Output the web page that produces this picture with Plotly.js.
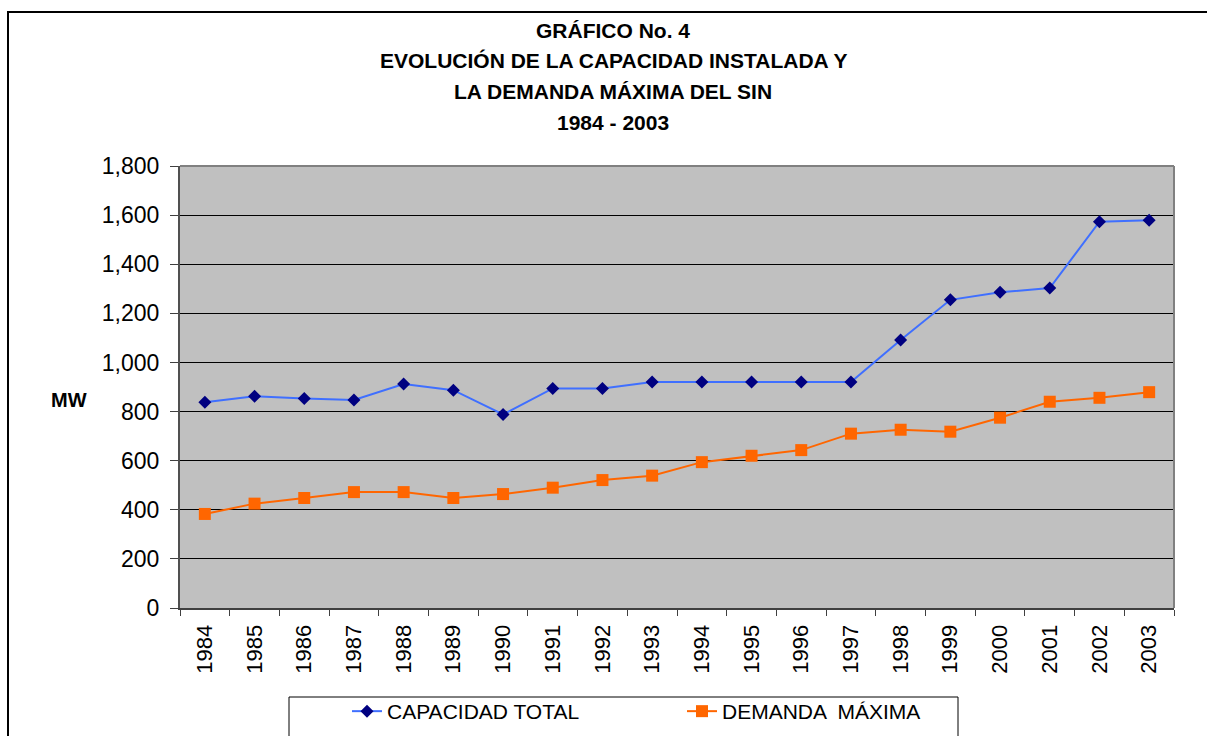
<!DOCTYPE html>
<html>
<head>
<meta charset="utf-8">
<script src="https://cdn.plot.ly/plotly-3.0.1.min.js"></script>
<style>html,body{margin:0;padding:0;background:#fff;}#chart{width:1207px;height:736px;}</style>
</head>
<body>
<div id="chart"></div>
<script>
const years = ["1984","1985","1986","1987","1988","1989","1990","1991","1992","1993","1994","1995","1996","1997","1998","1999","2000","2001","2002","2003"];
const capacidadTotal = [838, 862, 853, 847, 912, 887, 788, 894, 894, 920, 920, 920, 920, 920, 1091, 1255, 1286, 1303, 1573, 1579];
const demandaMaxima = [383, 425, 448, 472, 472, 448, 464, 490, 521, 539, 594, 620, 643, 710, 726, 718, 775, 840, 856, 879];
const titleLines = ["GRÁFICO No. 4", "EVOLUCIÓN DE LA CAPACIDAD INSTALADA Y", "LA DEMANDA MÁXIMA DEL SIN", "1984 - 2003"];
const yTicks = [0, 200, 400, 600, 800, 1000, 1200, 1400, 1600, 1800];

const FONT = "Liberation Sans, Arial, sans-serif";
const L = 180, R = 1174, T = 166, B = 608;
const W = R - L, H = B - T;
const px = x => (x - L) / W;
const py = y => (B - y) / H;

const traces = [
  {
    x: years, y: capacidadTotal, name: "CAPACIDAD TOTAL", type: "scatter", mode: "lines+markers",
    line: {color: "#3F6FFF", width: 2},
    marker: {symbol: "diamond", size: 10, color: "#000080", line: {width: 0}}
  },
  {
    x: years, y: demandaMaxima, name: "DEMANDA  MÁXIMA", type: "scatter", mode: "lines+markers",
    line: {color: "#FF6600", width: 2},
    marker: {symbol: "square", size: 12, color: "#FF6600", line: {width: 0}}
  }
];

const titleY = [30, 61, 92, 123];
const annotations = titleLines.map((t, i) => ({
  text: "<b>" + t + "</b>", xref: "paper", yref: "paper", x: px(613), y: py(titleY[i]),
  xanchor: "center", yanchor: "middle", showarrow: false,
  font: {family: FONT, size: 21, color: "#000"}
}));
annotations.push({
  text: "<b>MW</b>", xref: "paper", yref: "paper", x: px(69), y: py(400),
  xanchor: "center", yanchor: "middle", showarrow: false,
  font: {family: FONT, size: 20, color: "#000"}
});

const layout = {
  width: 1207, height: 736,
  margin: {l: L, r: 1207 - R, t: T, b: 736 - B, pad: 0, autoexpand: false},
  paper_bgcolor: "#ffffff",
  plot_bgcolor: "#C0C0C0",
  font: {family: FONT, color: "#000"},
  showlegend: true,
  legend: {
    orientation: "h", xref: "paper", yref: "paper", x: px(347), y: py(691),
    xanchor: "left", yanchor: "top",
    bgcolor: "rgba(0,0,0,0)", borderwidth: 0,
    font: {family: FONT, size: 21, color: "#000"},
    entrywidth: 290, entrywidthmode: "pixels", traceorder: "normal"
  },
  xaxis: {
    type: "category", range: [-0.5, years.length - 0.5],
    tickson: "boundaries", ticks: "outside", ticklen: 6, tickwidth: 1, tickcolor: "#404040",
    tickangle: -90, tickfont: {family: FONT, size: 22, color: "#000"}, ticklabelstandoff: 6,
    showgrid: false, showline: true, linecolor: "#404040", linewidth: 2, mirror: false,
    zeroline: false, fixedrange: true
  },
  yaxis: {
    range: [0, 1800], tickvals: yTicks, tickformat: ",d",
    ticks: "outside", ticklen: 8, tickwidth: 1, tickcolor: "#404040",
    tickfont: {family: FONT, size: 23, color: "#000"}, ticklabelstandoff: 6,
    showgrid: true, gridcolor: "#000000", gridwidth: 1,
    showline: true, linecolor: "#505050", linewidth: 2, mirror: false,
    zeroline: false, fixedrange: true
  },
  shapes: [
    {type: "line", xref: "paper", yref: "paper", x0: 0, x1: 1, y0: 1, y1: 1, line: {color: "#808080", width: 2}},
    {type: "line", xref: "paper", yref: "paper", x0: 1, x1: 1, y0: 0, y1: 1, line: {color: "#808080", width: 2}},
    {type: "rect", xref: "paper", yref: "paper", x0: px(289), x1: px(958), y0: py(760), y1: py(697), line: {color: "#000", width: 1}, fillcolor: "rgba(0,0,0,0)", layer: "below"},
    {type: "rect", xref: "paper", yref: "paper", x0: px(8), x1: px(1230), y0: py(760), y1: py(12), line: {color: "#000", width: 2}, fillcolor: "rgba(0,0,0,0)", layer: "above"}
  ],
  annotations: annotations
};

Plotly.newPlot("chart", traces, layout, {displayModeBar: false, staticPlot: true});
</script>
</body>
</html>
